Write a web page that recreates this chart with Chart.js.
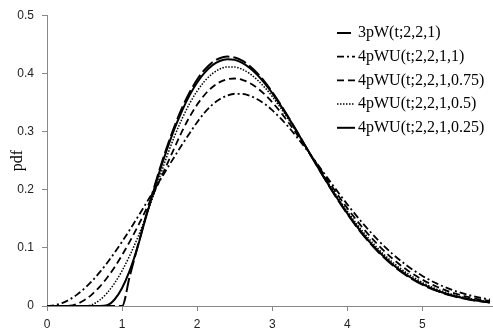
<!DOCTYPE html>
<html>
<head>
<meta charset="utf-8">
<script src="https://cdn.jsdelivr.net/npm/chart.js@4.4.1/dist/chart.umd.min.js"></script>
<style>
html,body{margin:0;padding:0;background:#fff;}
#c{display:block;}
</style>
</head>
<body>
<canvas id="c" width="493" height="332"></canvas>
<script>
// ---- data ----
const tValues = [0,0.1,0.2,0.3,0.4,0.5,0.6,0.7,0.8,0.9,1.0,1.1,1.2,1.3,1.4,1.5,1.6,1.7,1.8,1.9,2.0,2.1,2.2,2.3,2.4,2.5,2.6,2.7,2.8,2.9,3.0,3.2,3.4,3.6,3.8,4.0,4.2,4.4,4.6,4.8,5.0,5.2,5.4,5.6,5.8,5.9];

const pdf3pW = [0,0,0,0,0,0,0,0,0,0,0,
  0.0499,0.0990,0.1467,0.1922,0.2349,0.2742,0.3097,0.3409,0.3675,0.3894,0.4064,0.4186,0.4260,0.4288,0.4273,0.4218,0.4127,0.4004,0.3853,0.3679,
  0.3280,0.2843,0.2399,0.1972,0.1581,0.1237,0.0945,0.0705,0.0514,0.0366,0.0255,0.0174,0.0116,0.0076,0.0061];

const pdf4pWU_1 = [0,0.0013,0.0050,0.0111,0.0196,0.0303,0.0430,0.0577,0.0739,0.0917,0.1106,0.1305,0.1512,0.1723,0.1937,0.2151,0.2364,0.2572,0.2776,0.2972,0.3161,0.3327,0.3459,0.3556,0.3619,0.3649,0.3647,0.3616,0.3556,0.3473,0.3367,
  0.3102,0.2785,0.2441,0.2089,0.1748,0.1430,0.1145,0.0897,0.0689,0.0517,0.0381,0.0275,0.0194,0.0134,0.0111];

const pdf4pWU_075 = [0,0,0,0.0004,0.0037,0.0103,0.0201,0.0329,0.0486,0.0668,0.0875,0.1102,0.1347,0.1606,0.1877,0.2156,0.2440,0.2726,0.3006,0.3254,0.3463,0.3632,0.3761,0.3850,0.3899,0.3912,0.3889,0.3834,0.3749,0.3638,0.3504,
  0.3184,0.2817,0.2430,0.2046,0.1682,0.1352,0.1062,0.0816,0.0614,0.0452,0.0326,0.0230,0.0159,0.0107,0.0088];

const pdf4pWU_05 = [0,0,0,0,0,0,0.0025,0.0100,0.0223,0.0392,0.0606,0.0861,0.1153,0.1479,0.1833,0.2212,0.2585,0.2924,0.3223,0.3482,0.3696,0.3866,0.3992,0.4073,0.4111,0.4109,0.4069,0.3995,0.3889,0.3757,0.3602,
  0.3239,0.2834,0.2416,0.2008,0.1628,0.1290,0.0998,0.0755,0.0559,0.0404,0.0286,0.0198,0.0135,0.0089,0.0072];

const pdf4pWU_025 = [0,0,0,0,0,0,0,0,0.0012,0.0112,0.0310,0.0603,0.0987,0.1444,0.1893,0.2314,0.2702,0.3053,0.3361,0.3626,0.3844,0.4014,0.4137,0.4213,0.4244,0.4232,0.4181,0.4094,0.3975,0.3829,0.3660,
  0.3270,0.2841,0.2403,0.1981,0.1593,0.1250,0.0958,0.0718,0.0525,0.0376,0.0263,0.0180,0.0121,0.0079,0.0063];

const seriesNames = ['3pW(t;2,2,1)','4pWU(t;2,2,1,1)','4pWU(t;2,2,1,0.75)','4pWU(t;2,2,1,0.5)','4pWU(t;2,2,1,0.25)'];
const xTickValues = [0,1,2,3,4,5];
const yTickValues = [0,0.1,0.2,0.3,0.4,0.5];
const yTitle = 'pdf';

// ---- chart ----
const seriesValues = [pdf3pW, pdf4pWU_1, pdf4pWU_075, pdf4pWU_05, pdf4pWU_025];
const styles = [
  {dash:[14,4], width:2},
  {dash:[7,3,2,3], width:1.8},
  {dash:[7,4], width:1.8},
  {dash:[1.5,1.5], width:1.5},
  {dash:[], width:2}
];
const datasets = seriesValues.map((arr,i)=>({
  label: seriesNames[i],
  data: tValues.map((t,j)=>({x:t, y:arr[j]})),
  borderColor:'#000',
  backgroundColor:'#000',
  borderWidth: styles[i].width,
  borderDash: styles[i].dash,
  pointRadius:0,
  fill:false,
  cubicInterpolationMode:'monotone'
}));

const legendPlugin = {
  id:'customLegend',
  afterDraw(chart){
    const ctx = chart.ctx;
    ctx.save();
    chart.data.datasets.forEach((ds,i)=>{
      const y = 33 + i*23.7;
      ctx.beginPath();
      ctx.setLineDash(ds.borderDash);
      ctx.lineWidth = ds.borderWidth;
      ctx.strokeStyle = '#000';
      ctx.moveTo(337, y);
      ctx.lineTo(355, y);
      ctx.stroke();
      ctx.setLineDash([]);
      ctx.fillStyle = '#000';
      ctx.font = '16px "Liberation Serif"';
      ctx.textBaseline = 'middle';
      ctx.textAlign = 'left';
      ctx.fillText(ds.label, 358, y);
    });
    ctx.restore();
  }
};

new Chart(document.getElementById('c'), {
  type:'line',
  data:{datasets},
  plugins:[legendPlugin],
  options:{
    responsive:false,
    animation:false,
    devicePixelRatio:1,
    layout:{padding:{top:14,right:0,left:0,bottom:0}},
    plugins:{legend:{display:false}, tooltip:{enabled:false}},
    scales:{
      x:{
        type:'linear',
        min:0, max:5.94,
        afterFit(s){ s.height = 26; },
        afterBuildTicks(s){ s.ticks = xTickValues.map(v=>({value:v})); },
        ticks:{includeBounds:false, stepSize:1, padding:6, color:'#222', font:{family:'"Liberation Sans"', size:12}},
        grid:{drawOnChartArea:false, drawTicks:true, tickLength:5, color:'#888'},
        border:{display:true, color:'#888', width:1}
      },
      y:{
        type:'linear',
        min:0, max:0.5,
        afterFit(s){ s.width = 47; },
        afterBuildTicks(s){ s.ticks = yTickValues.map(v=>({value:v})); },
        ticks:{includeBounds:false, stepSize:0.1, padding:8, color:'#222', font:{family:'"Liberation Sans"', size:12}},
        grid:{drawOnChartArea:false, drawTicks:true, tickLength:5, color:'#888'},
        border:{display:true, color:'#888', width:1},
        title:{display:true, text:yTitle, color:'#000', font:{family:'"Liberation Serif"', size:16}, padding:{top:8,bottom:0}}
      }
    }
  }
});
</script>
</body>
</html>
